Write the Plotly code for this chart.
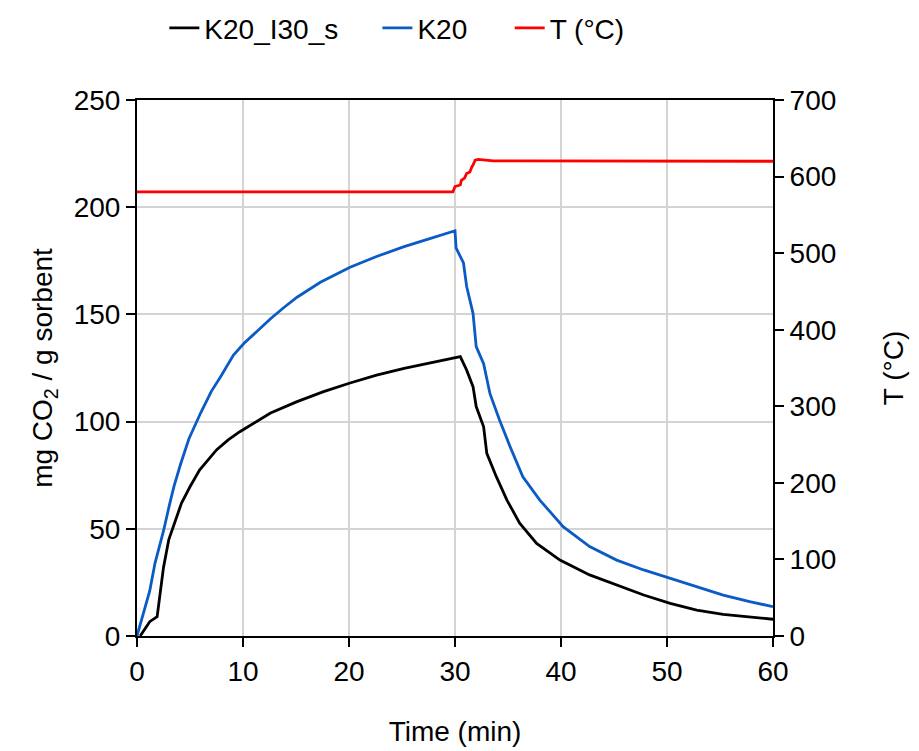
# CO2 uptake / release curves with furnace temperature on a second axis
import plotly.graph_objects as go

# K20_I30_s sorbent (mg CO2 / g sorbent) vs time (min)
t_k20i30 = [0.3, 1.2, 1.9, 2.3, 2.5, 3.0, 3.4, 4.2, 5.0, 5.9, 7.5, 8.6, 9.7, 11.3, 12.6,
            15.1, 17.6, 20.1, 22.6, 25.2, 27.7, 30.2, 30.5, 31.1, 31.7, 32.0, 32.7, 33.0,
            33.9, 34.9, 36.1, 37.7, 39.9, 42.7, 45.25, 47.8, 50.3, 52.8, 55.3, 57.8, 60]
v_k20i30 = [0, 6.7, 9, 23, 32, 45, 51, 62, 69.6, 77.4, 86.8, 91.5, 95.3, 100, 104,
            109.3, 114, 118, 121.7, 124.8, 127.5, 130, 130.3, 124, 116.3, 107, 97.6, 85.2,
            74.3, 63.4, 52.6, 43.2, 35.4, 28.5, 23.8, 19.1, 15.2, 12.1, 10.1, 8.7, 7.8]

# K20 sorbent
t_k20 = [0, 0.6, 1.2, 1.7, 2.5, 3.1, 3.5, 4.1, 4.9, 6.0, 7.0, 7.9, 9.1, 10.1, 11.3,
         12.6, 13.8, 15.1, 17.3, 20.1, 22.6, 25.2, 27.7, 30.0, 30.1, 30.8, 31.1, 31.7,
         32.0, 32.7, 33.3, 34.2, 35.2, 36.4, 38.0, 40.2, 42.7, 45.25, 47.8, 50.3, 52.8,
         55.3, 57.8, 60]
v_k20 = [0, 10, 21, 34, 49, 62, 70, 80, 92, 104, 114, 121, 131, 136.5, 142,
         148, 153, 158, 165, 172, 177, 181.6, 185.5, 189, 181, 174, 163, 150.5,
         135, 127, 113, 100.7, 88.3, 74.3, 63.4, 51, 41.7, 35.4, 30.8, 26.9, 23,
         19.1, 16, 13.7]

# temperature (°C)
t_temp = [0, 29.8, 30.0, 30.5, 30.6, 30.9, 31.1, 31.4, 31.6, 31.7, 31.9, 32.2, 33.6, 60]
v_temp = [580, 580, 587, 589, 595, 598, 604, 606, 613, 615, 621.5, 622.5, 620.4, 620]

FONT = "Liberation Sans, Arial, sans-serif"
GRID = "#D4D4D4"

fig = go.Figure()

fig.add_trace(go.Scatter(x=t_k20i30, y=v_k20i30, mode="lines", name="K20_I30_s",
                         legend="legend", line=dict(color="#000000", width=2.8)))
fig.add_trace(go.Scatter(x=t_k20, y=v_k20, mode="lines", name="K20",
                         legend="legend2", line=dict(color="#0B5BC4", width=2.8)))
fig.add_trace(go.Scatter(x=t_temp, y=v_temp, mode="lines", name="T (°C)", yaxis="y2",
                         legend="legend3", line=dict(color="#FF0000", width=2.8)))

# one legend box per entry so the spacing matches the original
leg = dict(orientation="h", y=1.134, yanchor="middle", xanchor="left",
           font=dict(size=28), bgcolor="rgba(0,0,0,0)")

ax = dict(showline=True, linecolor="#000000", linewidth=2,
          ticks="outside", ticklen=9, tickwidth=2, tickcolor="#000000",
          zeroline=False, tickfont=dict(size=28))

# page body adds an 8px offset, so the figure is a bit smaller than the window
fig.update_layout(
    width=911, height=743,
    margin=dict(l=129, r=146, t=92, b=115, autoexpand=False),
    paper_bgcolor="white", plot_bgcolor="white",
    font=dict(family=FONT, size=28, color="#000000"),
    showlegend=True,
    legend=dict(leg, x=0.043),
    legend2=dict(leg, x=0.378),
    legend3=dict(leg, x=0.586),
    xaxis=dict(ax, range=[0, 60], dtick=10, showgrid=True, gridcolor=GRID, gridwidth=2,
               mirror=True,
               title=dict(text="Time (min)", font=dict(size=28), standoff=36)),
    yaxis=dict(ax, range=[0, 250], dtick=50, showgrid=True, gridcolor=GRID, gridwidth=2,
               title=dict(text="mg CO<sub>2</sub> / g sorbent", font=dict(size=28),
                          standoff=13)),
    yaxis2=dict(ax, range=[0, 700], dtick=100, overlaying="y", side="right",
                showgrid=False,
                title=dict(text="T (°C)", font=dict(size=28), standoff=48)),
)

fig.write_html("out.html")
